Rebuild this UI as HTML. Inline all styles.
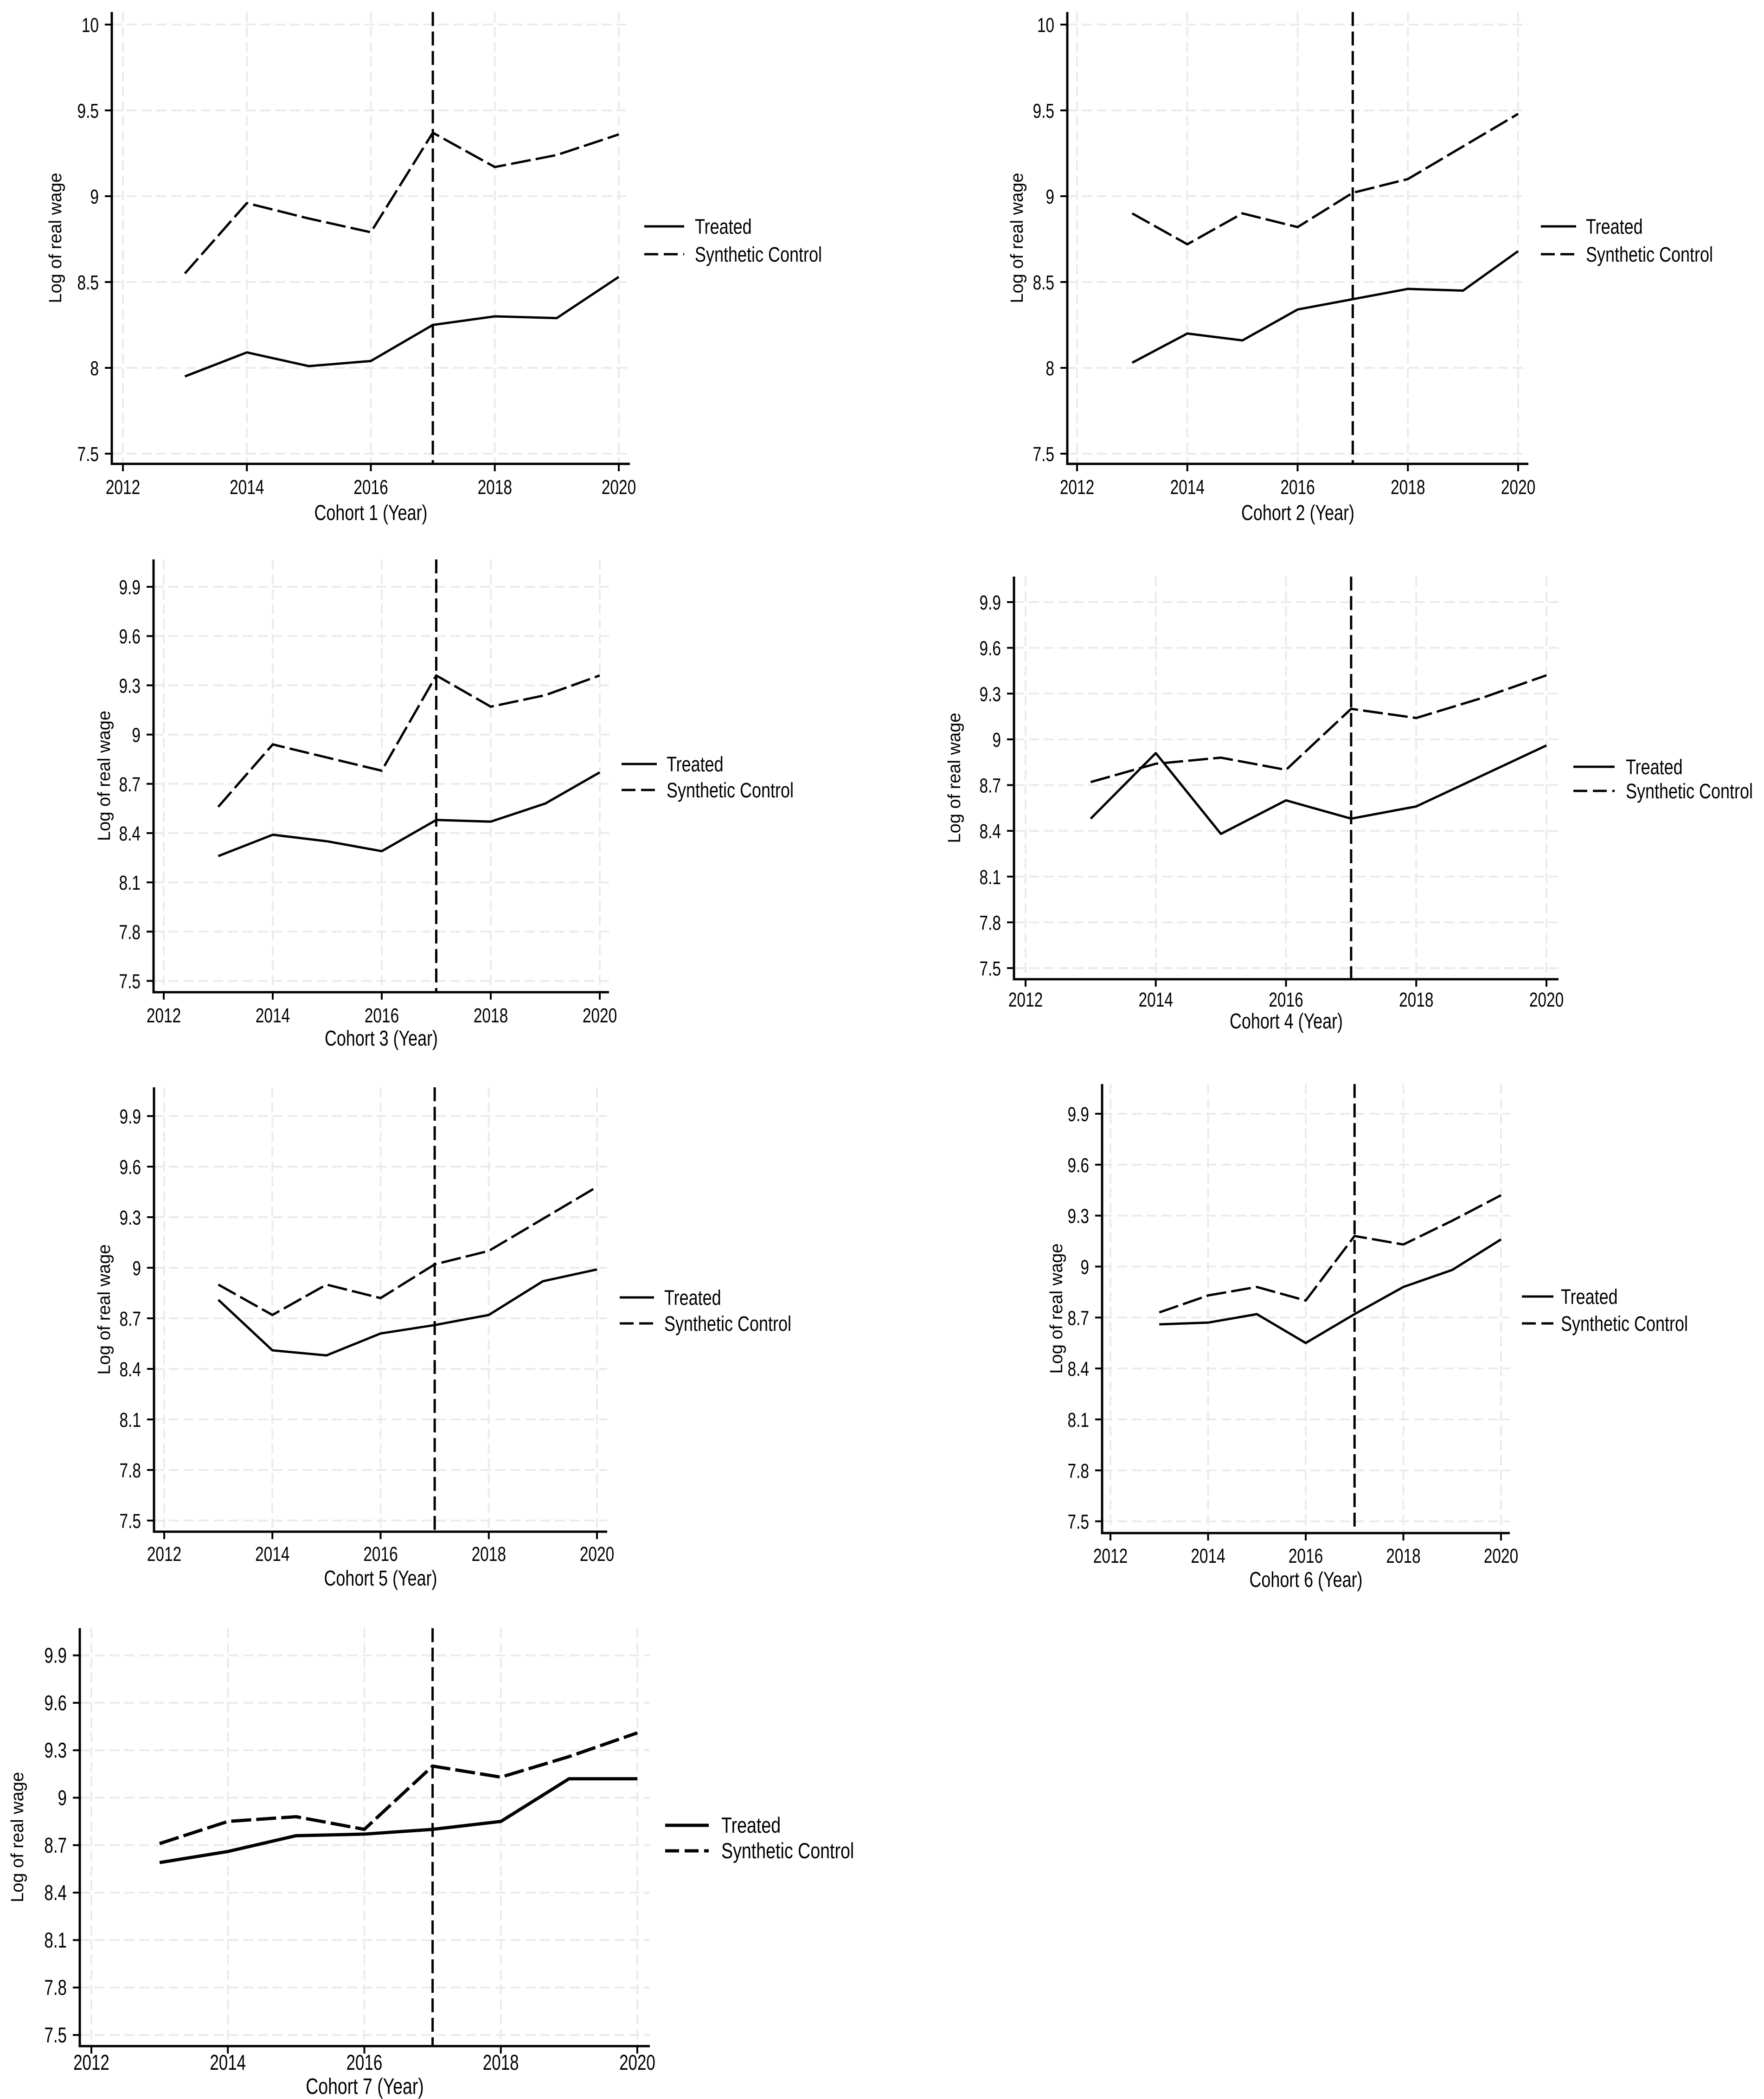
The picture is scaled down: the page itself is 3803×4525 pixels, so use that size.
<!DOCTYPE html>
<html><head><meta charset="utf-8"><style>
html,body{margin:0;padding:0;background:#fff;}
svg{display:block;}
text{font-family:"Liberation Sans",sans-serif;fill:#000;}
</style></head>
<body>
<svg id="fig" width="3803" height="4525" viewBox="0 0 3803 4525" xmlns="http://www.w3.org/2000/svg">
<rect width="3803" height="4525" fill="#fff"/>
</svg>
<script>
const years = [2013, 2014, 2015, 2016, 2017, 2018, 2019, 2020];
const xTicks = [2012, 2014, 2016, 2018, 2020];
const yTicksA = [7.5, 8, 8.5, 9, 9.5, 10];
const yTicksB = [7.5, 7.8, 8.1, 8.4, 8.7, 9, 9.3, 9.6, 9.9];
const treatmentYear = 2017;
const legendLabels = ["Treated", "Synthetic Control"];

const treated1 = [7.95, 8.09, 8.01, 8.04, 8.25, 8.30, 8.29, 8.53];
const synth1   = [8.55, 8.96, 8.87, 8.79, 9.37, 9.17, 9.24, 9.36];
const treated2 = [8.03, 8.20, 8.16, 8.34, 8.40, 8.46, 8.45, 8.68];
const synth2   = [8.90, 8.72, 8.90, 8.82, 9.02, 9.10, 9.29, 9.48];
const treated3 = [8.26, 8.39, 8.35, 8.29, 8.48, 8.47, 8.58, 8.77];
const synth3   = [8.56, 8.94, 8.86, 8.78, 9.36, 9.17, 9.24, 9.36];
const treated4 = [8.48, 8.91, 8.38, 8.60, 8.48, 8.56, 8.76, 8.96];
const synth4   = [8.72, 8.84, 8.88, 8.80, 9.20, 9.14, 9.27, 9.42];
const treated5 = [8.81, 8.51, 8.48, 8.61, 8.66, 8.72, 8.92, 8.99];
const synth5   = [8.90, 8.72, 8.90, 8.82, 9.02, 9.10, 9.29, 9.48];
const treated6 = [8.66, 8.67, 8.72, 8.55, 8.72, 8.88, 8.98, 9.16];
const synth6   = [8.73, 8.83, 8.88, 8.80, 9.18, 9.13, 9.27, 9.42];
const treated7 = [8.59, 8.66, 8.76, 8.77, 8.80, 8.85, 9.12, 9.12];
const synth7   = [8.71, 8.85, 8.88, 8.80, 9.20, 9.13, 9.26, 9.41];

const NS = "http://www.w3.org/2000/svg";
const svg = document.getElementById('fig');

const panels = [
 {n:1, t:treated1, s:synth1, yt:yTicksA, L:241, R:1358, T:26, B:1000, x0:265, x1:1334, yLo:978, yHi:53, ylx:119, tly:1065, xly:1121, lgx0:1389, lgx1:1475, lgt:1498, lgy1:488, lgy2:548, fs:44, lfs:45},
 {n:2, t:treated2, s:synth2, yt:yTicksA, L:2301, R:3295, T:26, B:1000, x0:2322, x1:3273, yLo:978, yHi:53, ylx:2192, tly:1065, xly:1121, lgx0:3322, lgx1:3398, lgt:3419, lgy1:488, lgy2:548, fs:44, lfs:45},
 {n:3, t:treated3, s:synth3, yt:yTicksB, L:331, R:1313, T:1206, B:2139, x0:353, x1:1293, yLo:2114.6, yHi:1265, ylx:224, tly:2204, xly:2254, lgx0:1340, lgx1:1416, lgt:1437, lgy1:1647, lgy2:1703, fs:44, lfs:45},
 {n:4, t:treated4, s:synth4, yt:yTicksB, L:2186, R:3360, T:1243, B:2111, x0:2211, x1:3334, yLo:2087, yHi:1298, ylx:2057, tly:2170, xly:2217, lgx0:3392, lgx1:3481, lgt:3505, lgy1:1653, lgy2:1705, fs:44, lfs:45},
 {n:5, t:treated5, s:synth5, yt:yTicksB, L:332, R:1309, T:2344, B:3302, x0:354, x1:1287, yLo:3278, yHi:2406, ylx:224, tly:3365, xly:3418, lgx0:1336, lgx1:1410, lgt:1432, lgy1:2797, lgy2:2853, fs:44, lfs:45},
 {n:6, t:treated6, s:synth6, yt:yTicksB, L:2376, R:3255, T:2337, B:3305, x0:2394, x1:3236, yLo:3279.6, yHi:2401, ylx:2277, tly:3369, xly:3421, lgx0:3281, lgx1:3349, lgt:3365, lgy1:2795, lgy2:2853, fs:44, lfs:45},
 {n:7, t:treated7, s:synth7, yt:yTicksB, L:172, R:1401, T:3510, B:4411, x0:197, x1:1374, yLo:4387, yHi:3568.6, ylx:37, tly:4462, xly:4514, lgx0:1434, lgx1:1528, lgt:1555, lgy1:3935, lgy2:3990, fs:46, lfs:47}
];

function mk(tag, attrs, parent){
  const e = document.createElementNS(NS, tag);
  for (const k in attrs) e.setAttribute(k, attrs[k]);
  parent.appendChild(e);
  return e;
}
function ctext(parent, str, x, y, size, anchor, sx){
  const t = mk('text', {transform:`translate(${x},${y}) scale(${sx},1)`, 'font-size':size, 'text-anchor':anchor}, parent);
  t.textContent = str;
  return t;
}

panels.forEach(p => {
  const g = mk('g', {}, svg);
  
  
  const yMin = p.yt[0], yMax = p.yt[p.yt.length-1];
  const xs = v => p.x0 + (v - 2012) / 8 * (p.x1 - p.x0);
  const ys = v => p.yLo - (v - yMin) / (yMax - yMin) * (p.yLo - p.yHi);

  xTicks.forEach(v => {
    const l = mk('line', {x1:xs(v), x2:xs(v), y1:p.T, y2:p.B, stroke:'#ebebeb', 'stroke-width':4, 'stroke-dasharray':'22 10'}, g);
    
    
  });
  p.yt.forEach(v => {
    const l = mk('line', {x1:p.L, x2:p.R, y1:ys(v), y2:ys(v), stroke:'#ebebeb', 'stroke-width':4, 'stroke-dasharray':'22 10'}, g);
    
    
  });

  const ax = mk('path', {d:`M${p.L},${p.T} V${p.B} H${p.R}`, fill:'none', stroke:'#000', 'stroke-width':5}, g);
  
  

  xTicks.forEach(v => {
    mk('line', {x1:xs(v), x2:xs(v), y1:p.B, y2:p.B+16, stroke:'#000', 'stroke-width':4}, g);
    const t = ctext(g, String(v), xs(v), p.tly, p.fs, 'middle', 0.76);
    
    
  });
  p.yt.forEach(v => {
    mk('line', {x1:p.L-15, x2:p.L, y1:ys(v), y2:ys(v), stroke:'#000', 'stroke-width':4}, g);
    const t = ctext(g, String(v), p.L-28, ys(v)+16, p.fs, 'end', 0.76);
    
    
  });

  const vl = mk('line', {x1:xs(treatmentYear), x2:xs(treatmentYear), y1:p.T, y2:p.B, stroke:'#000', 'stroke-width':5, 'stroke-dasharray':'30 12'}, g);
  
  

  const ptsT = years.map((y,i) => xs(y)+','+ys(p.t[i])).join(' ');
  const ptsS = years.map((y,i) => xs(y)+','+ys(p.s[i])).join(' ');
  const lt = mk('polyline', {points:ptsT, fill:'none', stroke:'#000', 'stroke-width':p.n===7?7:5, 'stroke-linejoin':'round'}, g);
  
  
  const ls = mk('polyline', {points:ptsS, fill:'none', stroke:'#000', 'stroke-width':p.n===7?7:5, 'stroke-dasharray':'43 11'}, g);
  
  

  const xt = ctext(g, 'Cohort ' + p.n + ' (Year)', (p.L+p.R)/2, p.xly, p.fs+2, 'middle', 0.78);
  
  
  const cy = (p.T + p.B)/2;
  const yt = mk('text', {transform:`translate(${p.ylx+13},${cy}) rotate(-90)`, 'font-size':38, 'text-anchor':'middle'}, g);
  yt.textContent = 'Log of real wage';
  
  

  const lg = mk('g', {}, g);
  
  
  mk('line', {x1:p.lgx0, x2:p.lgx1, y1:p.lgy1, y2:p.lgy1, stroke:'#000', 'stroke-width':p.n===7?7:5}, lg);
  mk('line', {x1:p.lgx0, x2:p.lgx1, y1:p.lgy2, y2:p.lgy2, stroke:'#000', 'stroke-width':p.n===7?7:5, 'stroke-dasharray':'30 12'}, lg);
  const l1 = ctext(lg, legendLabels[0], p.lgt, p.lgy1+16, p.lfs, 'start', 0.8);
  
  
  const l2 = ctext(lg, legendLabels[1], p.lgt, p.lgy2+16, p.lfs, 'start', 0.8);
  
  
});
</script>
</body></html>
